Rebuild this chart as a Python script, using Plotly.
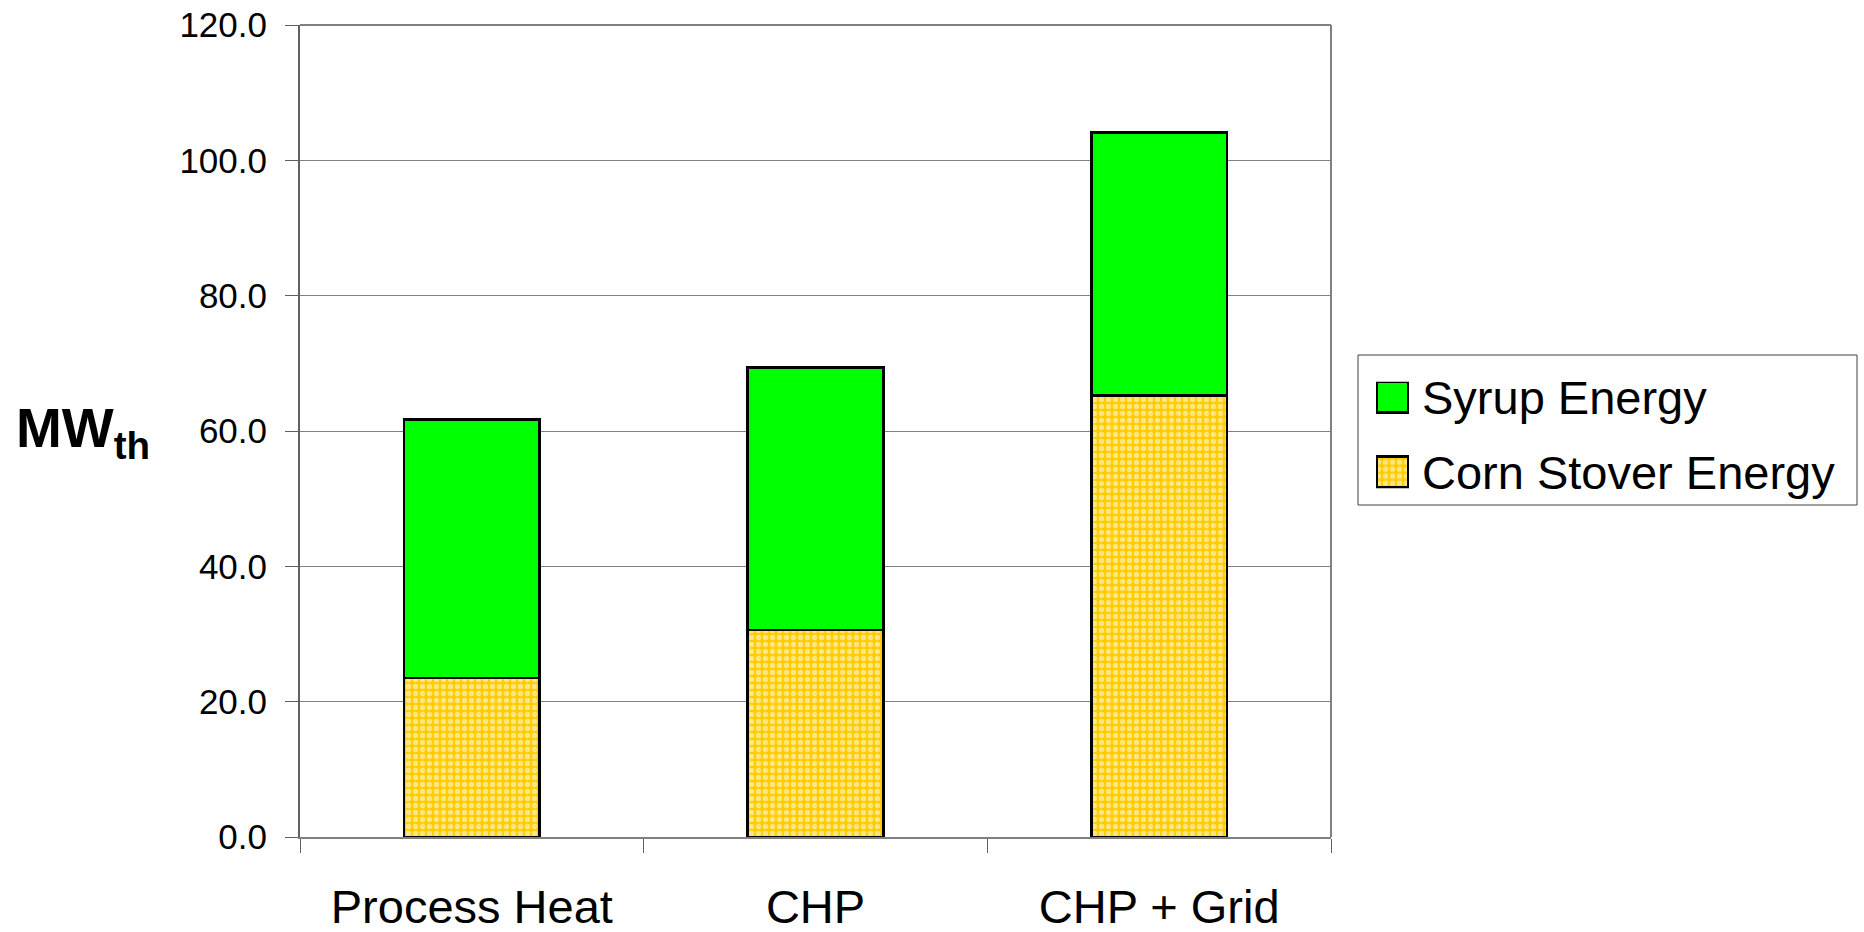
import plotly.graph_objects as go

# Scenario categories and stacked energy contributions (MW thermal)
scenarios = ["Process Heat", "CHP", "CHP + Grid"]
corn_stover_energy = [23.5, 30.6, 65.3]
syrup_energy = [38.2, 38.8, 38.8]
series_names = ["Syrup Energy", "Corn Stover Energy"]
y_ticks = [0, 20, 40, 60, 80, 100, 120]

W, H = 1864, 932
ML, MR, MT, MB = 300, 7, 25, 95
plot_w = W - ML - MR
plot_h = H - MT - MB


def px_x(px):
    return (px - ML) / plot_w


def px_y(py):
    return (H - MB - py) / plot_h


GREEN = "#00FF00"
GOLD = "#FFCC00"
stover_pattern = dict(shape=".", fgcolor="white", bgcolor=GOLD, size=7, solidity=0.45)
outline = dict(color="black", width=2.8)
FONT = "Liberation Sans, Arial, sans-serif"

fig = go.Figure()

fig.add_trace(go.Bar(
    x=scenarios, y=corn_stover_energy, name=series_names[1],
    marker=dict(color=GOLD, pattern=stover_pattern, line=outline),
    showlegend=False,
))
fig.add_trace(go.Bar(
    x=scenarios, y=syrup_energy, name=series_names[0],
    marker=dict(color=GREEN, line=outline),
    showlegend=False,
))

# Legend keys drawn as small bars on their own axes
fig.add_trace(go.Bar(
    x=[1], y=[1], orientation="h", width=0.413, xaxis="x2", yaxis="y2",
    marker=dict(color=GREEN, line=dict(color="black", width=2.5)),
    showlegend=False, hoverinfo="skip",
))
fig.add_trace(go.Bar(
    x=[1], y=[0], orientation="h", width=0.413, xaxis="x2", yaxis="y2",
    marker=dict(color=GOLD, pattern=stover_pattern, line=dict(color="black", width=2.5)),
    showlegend=False, hoverinfo="skip",
))

main_right = 1331
fig.update_layout(
    width=W, height=H,
    margin=dict(l=ML, r=MR, t=MT, b=MB, pad=0, autoexpand=False),
    paper_bgcolor="white", plot_bgcolor="white",
    barmode="stack", bargap=0.605,
    font=dict(family=FONT, color="black"),
    xaxis=dict(
        domain=[0, px_x(main_right)],
        type="category", automargin=False,
        showline=True, linecolor="#808080", linewidth=2,
        ticks="outside", tickson="boundaries", ticklen=14, tickcolor="#606060", tickwidth=1,
        tickfont=dict(size=47, family=FONT, color="black"),
        ticklabelstandoff=28,
        showgrid=False, zeroline=False,
    ),
    yaxis=dict(
        range=[0, 120], tickvals=y_ticks, tickformat=".1f", automargin=False,
        showline=True, linecolor="#606060", linewidth=2,
        ticks="outside", ticklen=13, tickcolor="#606060", tickwidth=1,
        tickfont=dict(size=35, family=FONT, color="black"),
        ticklabelstandoff=11,
        showgrid=True, gridcolor="#808080", gridwidth=1,
        zeroline=False,
    ),
    xaxis2=dict(
        domain=[px_x(1375), px_x(1410)], range=[-2 / 31, 1 + 2 / 31],
        anchor="y2", visible=False, fixedrange=True,
    ),
    yaxis2=dict(
        domain=[px_y(488.3), px_y(381.7)], range=[-0.217, 1.204],
        anchor="x2", visible=False, fixedrange=True,
    ),
)

# Top and right frame of the plotting area
fig.add_shape(type="line", xref="paper", yref="paper",
              x0=0, x1=px_x(main_right), y0=1, y1=1,
              line=dict(color="#808080", width=2))
fig.add_shape(type="line", xref="paper", yref="paper",
              x0=px_x(main_right), x1=px_x(main_right), y0=0, y1=1,
              line=dict(color="#808080", width=2))

# Legend frame and labels
fig.add_shape(type="rect", xref="paper", yref="paper",
              x0=px_x(1358), x1=px_x(1857), y0=px_y(505), y1=px_y(355),
              line=dict(color="#404040", width=1), fillcolor="rgba(0,0,0,0)")
for name, cy in zip(series_names, [397, 472]):
    fig.add_annotation(
        x=px_x(1420), y=px_y(cy), xref="paper", yref="paper",
        text=name, showarrow=False, xanchor="left", yanchor="middle",
        font=dict(size=47, family=FONT, color="black"),
    )

# Y-axis title
fig.add_annotation(
    x=px_x(14), y=px_y(432), xref="paper", yref="paper",
    text="<b>MW</b><b><sub>th</sub></b>", showarrow=False,
    xanchor="left", yanchor="middle",
    font=dict(size=55, family=FONT, color="black"),
)

fig.write_html("out.html")
